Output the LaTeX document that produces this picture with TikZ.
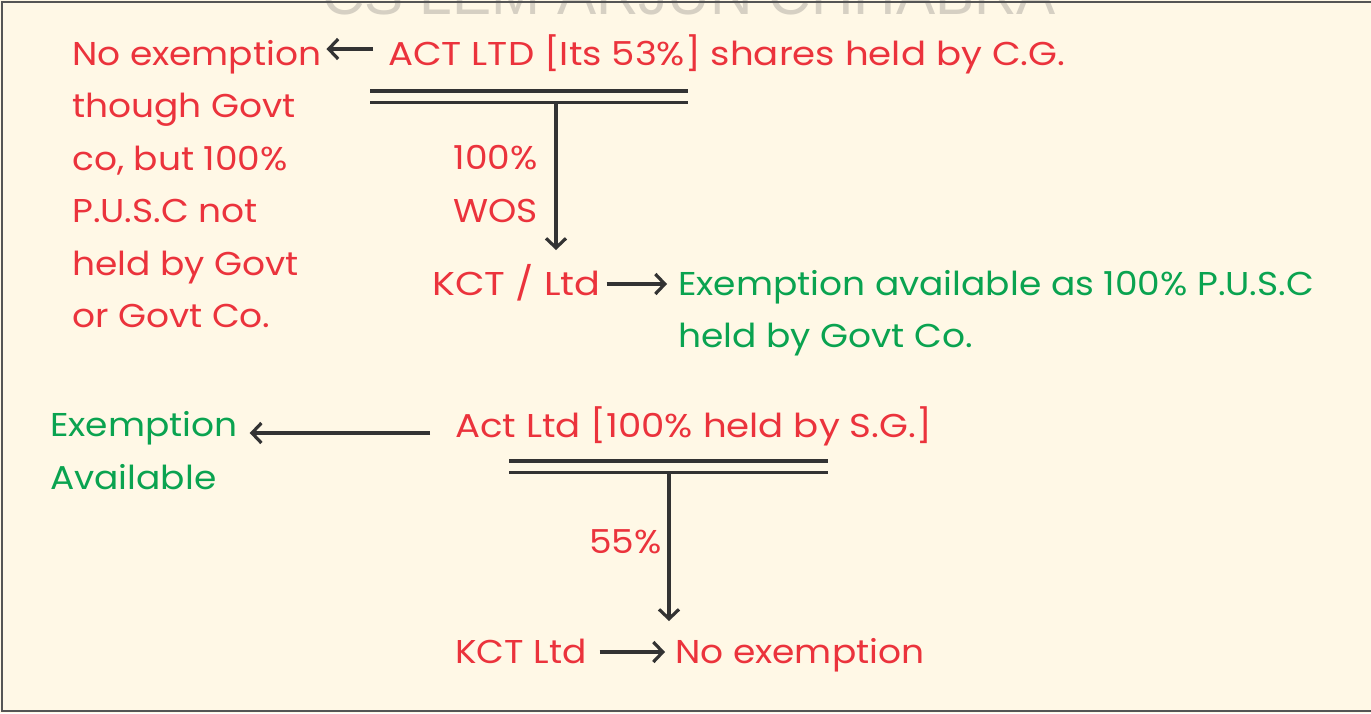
\documentclass[tikz,border=0pt]{standalone}
\usepackage{fontspec}
\setmainfont{Poppins}[FakeStretch=1.09]
\newfontfamily\markfont{Liberation Sans}
\usetikzlibrary{arrows.meta}
\definecolor{paper}{HTML}{FFF8E6}
\definecolor{frame}{HTML}{555555}
\definecolor{ink}{HTML}{333333}
\definecolor{txtred}{HTML}{EB333C}
\definecolor{txtgreen}{HTML}{0AA350}
\definecolor{mark}{HTML}{D6D0C3}
\tikzset{
  lbl/.style={inner sep=0pt, anchor=base west, font=\fontsize{33}{52.5}\selectfont, align=left},
  redtxt/.style={lbl, text=txtred},
  greentxt/.style={lbl, text=txtgreen},
  link/.style={draw=ink, line width=3.2pt, -{Straight Barb[length=9.5pt,width=20pt]}},
  bar/.style={draw=ink, line width=3.2pt},
}
\begin{document}
\begin{tikzpicture}[x=1pt,y=-1pt]
\useasboundingbox (0,0) rectangle (1371,713);
\fill[paper] (0,0) rectangle (1371,713);
% faint watermark along the top edge
\node[inner sep=0pt, anchor=base west, text=mark, font=\markfont\fontsize{58.7}{60}\selectfont] (wm) at (322,14) {CS LEM ARJUN CHHABRA};
\draw[frame, line width=2pt] (1371,2) -- (2,2) -- (2,711) -- (1371,711);

% ---- first structure (multi-line nodes sit on their last baseline)
\node[redtxt] (noex1) at (72,327.5) {No exemption\\though Govt\\co, but 100\%\\P.U.S.C not\\held by Govt\\or Govt Co.};
\node[redtxt, font=\fontsize{33}{52.5}\selectfont\addfontfeature{FakeStretch=1.125}] (act1) at (388,65) {ACT LTD [Its 53\%] shares held by C.G.};
\coordinate (bar1a) at (370,91);
\coordinate (bar1b) at (370,102.5);
\coordinate (bar1c) at (688,91);
\coordinate (bar1d) at (688,102.5);
\coordinate (tee1) at (556,102.5);
\draw[bar] (bar1a) -- (bar1c);
\draw[bar] (bar1b) -- (bar1d);
\node[redtxt, anchor=base east, align=center] (wos) at (538,222) {100\%\\WOS};
\node[redtxt, font=\fontsize{33}{52.5}\selectfont\addfontfeature{FakeStretch=1.16}] (kct1) at (432,295) {KCT / Ltd};
\node[greentxt] (exm1) at (678,347.5) {Exemption available as 100\% P.U.S.C\\held by Govt Co.};
\coordinate (act1tail) at ([xshift=-15pt,yshift=16pt]act1.base west);
\coordinate (kct1tail) at ([xshift=6pt,yshift=11pt]kct1.base east);
\draw[link] (act1tail) -- ([xshift=5pt]noex1.east |- act1tail);
\draw[link] (tee1) -- (tee1 |- 0,250);
\draw[link] (kct1tail) -- ([xshift=-11pt]exm1.west |- kct1tail);

% ---- second structure
\node[greentxt] (exm2) at (50,489) {Exemption\\Available};
\node[redtxt, font=\fontsize{33}{52.5}\selectfont\addfontfeature{FakeStretch=1.125}] (act2) at (455,437) {Act Ltd [100\% held by S.G.]};
\coordinate (bar2a) at (509,461);
\coordinate (bar2b) at (509,472.5);
\coordinate (bar2c) at (828,461);
\coordinate (bar2d) at (828,472.5);
\coordinate (tee2) at (669,472.5);
\draw[bar] (bar2a) -- (bar2c);
\draw[bar] (bar2b) -- (bar2d);
\node[redtxt, anchor=base east] (pct55) at (662,553) {55\%};
\node[redtxt] (kct2) at (455,663) {KCT Ltd};
\node[redtxt] (noex2) at (675,663) {No exemption};
\coordinate (act2tail) at ([xshift=-25pt,yshift=4pt]act2.base west);
\coordinate (kct2tail) at ([xshift=13pt,yshift=11pt]kct2.base east);
\draw[link] (act2tail) -- ([xshift=12pt]exm2.east |- act2tail);
\draw[link] (tee2) -- (tee2 |- 0,621);
\draw[link] (kct2tail) -- ([xshift=-10pt]noex2.west |- kct2tail);
\end{tikzpicture}
\end{document}
